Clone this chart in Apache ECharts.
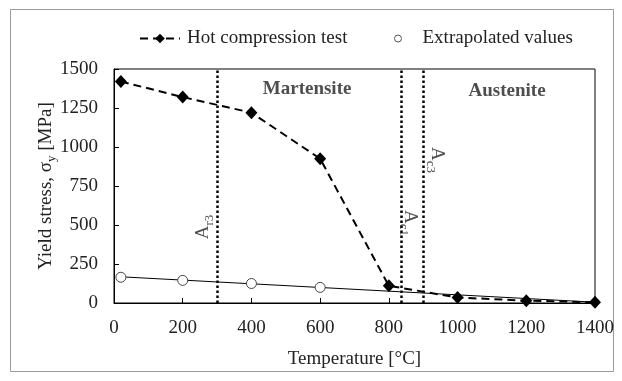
<!DOCTYPE html>
<html>
<head>
<meta charset="utf-8">
<script src="https://cdn.jsdelivr.net/npm/echarts@6/dist/echarts.min.js"></script>
<style>html,body{margin:0;padding:0;background:#fff}#c{width:622px;height:381px}</style>
</head>
<body>
<div id="c"></div>
<script>
// ---- data ----
const hotTemp = [20, 200, 400, 600, 800, 1000, 1200, 1400];
const hotStress = [1420, 1320, 1220, 925, 110, 35, 15, 5];
const extTemp = [20, 200, 400, 600];
const extStress = [165, 145, 125, 100];
const trendTemp = [20, 1400];
const trendStress = [168, 5];
const xTicks = [0, 200, 400, 600, 800, 1000, 1200, 1400];
const yTicks = [0, 250, 500, 750, 1000, 1250, 1500];
const transTemps = [300, 835, 900];           // Ar3, Ac1, Ac3
const transNames = ['r3', 'c1', 'c3'];
const transLabelPos = [[259, 487], [862, 513], [940, 917]];
const transLabelRot = [90, -90, -90];
const phaseNames = ['Martensite', 'Austenite'];
const phasePos = [[562, 1372], [1144, 1359]];

const FONT = 'Liberation Serif';
const TXT = '#222';

const chart = echarts.init(document.getElementById('c'), null, {renderer: 'canvas'});

const annotData = transTemps.map((t, i) => ({
  value: transLabelPos[i],
  label: {
    show: true,
    rotate: transLabelRot[i],
    formatter: '{a|A}{s|' + transNames[i] + '}',
    rich: {
      a: {fontFamily: FONT, fontSize: 19, color: TXT, lineHeight: 26},
      s: {fontFamily: FONT, fontSize: 13, color: TXT, lineHeight: 13, verticalAlign: 'bottom'}
    }
  }
}));
const phaseData = phaseNames.map((n, i) => ({
  value: phasePos[i],
  label: {show: true, formatter: n, fontFamily: FONT, fontSize: 19, fontWeight: 'bold', color: TXT}
}));

chart.setOption({
  animation: false,
  textStyle: {fontFamily: FONT},
  graphic: [{
    type: 'rect', silent: true,
    shape: {x: 10.5, y: 9.5, width: 603, height: 362},
    style: {fill: 'none', stroke: '#9a9a9a', lineWidth: 1}
  }],
  grid: {left: 114, right: 27, top: 69, bottom: 78, show: true, borderColor: '#000', borderWidth: 1, backgroundColor: 'transparent'},
  legend: [{
    data: ['Hot compression test'],
    left: 134, top: 24, itemWidth: 40, itemHeight: 12, itemGap: 10,
    textStyle: {fontFamily: FONT, fontSize: 19, color: TXT, padding: [0, 0, 0, 2]}
  }, {
    data: [{name: 'Extrapolated values', itemStyle: {borderWidth: 1, borderColor: '#555', color: '#fff'}}],
    left: 389, top: 24, itemWidth: 7, itemHeight: 7,
    textStyle: {fontFamily: FONT, fontSize: 19, color: TXT, padding: [0, 0, 0, 16]}
  }],
  xAxis: {
    type: 'value', min: xTicks[0], max: xTicks[xTicks.length - 1], interval: 200,
    name: 'Temperature [°C]', nameLocation: 'middle', nameGap: 47,
    nameTextStyle: {fontFamily: FONT, fontSize: 19, color: TXT},
    axisLine: {show: true, onZero: false, lineStyle: {color: '#000', width: 1}},
    axisTick: {show: true, inside: true, length: 5, lineStyle: {color: '#000'}},
    axisLabel: {margin: 16, fontFamily: FONT, fontSize: 19, color: TXT, formatter: v => String(v)},
    splitLine: {show: false}
  },
  yAxis: {
    type: 'value', min: yTicks[0], max: yTicks[yTicks.length - 1], interval: 250,
    name: '{n|Yield stress, σ}{s|y}{n| [MPa]}', nameLocation: 'middle', nameGap: 56,
    nameMoveOverlap: false,
    nameTextStyle: {
      rich: {
        n: {fontFamily: FONT, fontSize: 19, color: TXT, lineHeight: 24},
        s: {fontFamily: FONT, fontSize: 13, color: TXT, lineHeight: 13, verticalAlign: 'bottom'}
      }
    },
    axisLine: {show: true, onZero: false, lineStyle: {color: '#000', width: 1}},
    axisTick: {show: true, inside: true, length: 5, lineStyle: {color: '#000'}},
    axisLabel: {margin: 16, fontFamily: FONT, fontSize: 19, color: TXT, formatter: v => String(v)},
    splitLine: {show: false}
  },
  series: [{
    name: 'Trend', type: 'line', data: trendTemp.map((t, i) => [t, trendStress[i]]),
    showSymbol: false, symbol: 'none', lineStyle: {color: '#000', width: 1}, z: 2, silent: true
  }, {
    name: 'Hot compression test', type: 'line',
    data: hotTemp.map((t, i) => [t, hotStress[i]]),
    symbol: 'diamond', symbolSize: [12, 13],
    itemStyle: {color: '#000'},
    lineStyle: {color: '#000', width: 2, type: [8, 5]}, z: 4,
    markLine: {
      silent: true, symbol: 'none', label: {show: false},
      lineStyle: {color: '#000', width: 2.5, type: [2.5, 2.5]},
      data: transTemps.map(t => ({xAxis: t}))
    }
  }, {
    name: 'Extrapolated values', type: 'scatter',
    data: extTemp.map((t, i) => [t, extStress[i]]),
    symbol: 'circle', symbolSize: 10,
    itemStyle: {color: '#fff', borderColor: '#444', borderWidth: 1, opacity: 1}, z: 3
  }, {
    name: 'annot', type: 'scatter', data: annotData, symbolSize: 0, silent: true, z: 5
  }, {
    name: 'phase', type: 'scatter', data: phaseData, symbolSize: 0, silent: true, z: 5,
    label: {position: 'inside'}
  }]
});
</script>
</body>
</html>
